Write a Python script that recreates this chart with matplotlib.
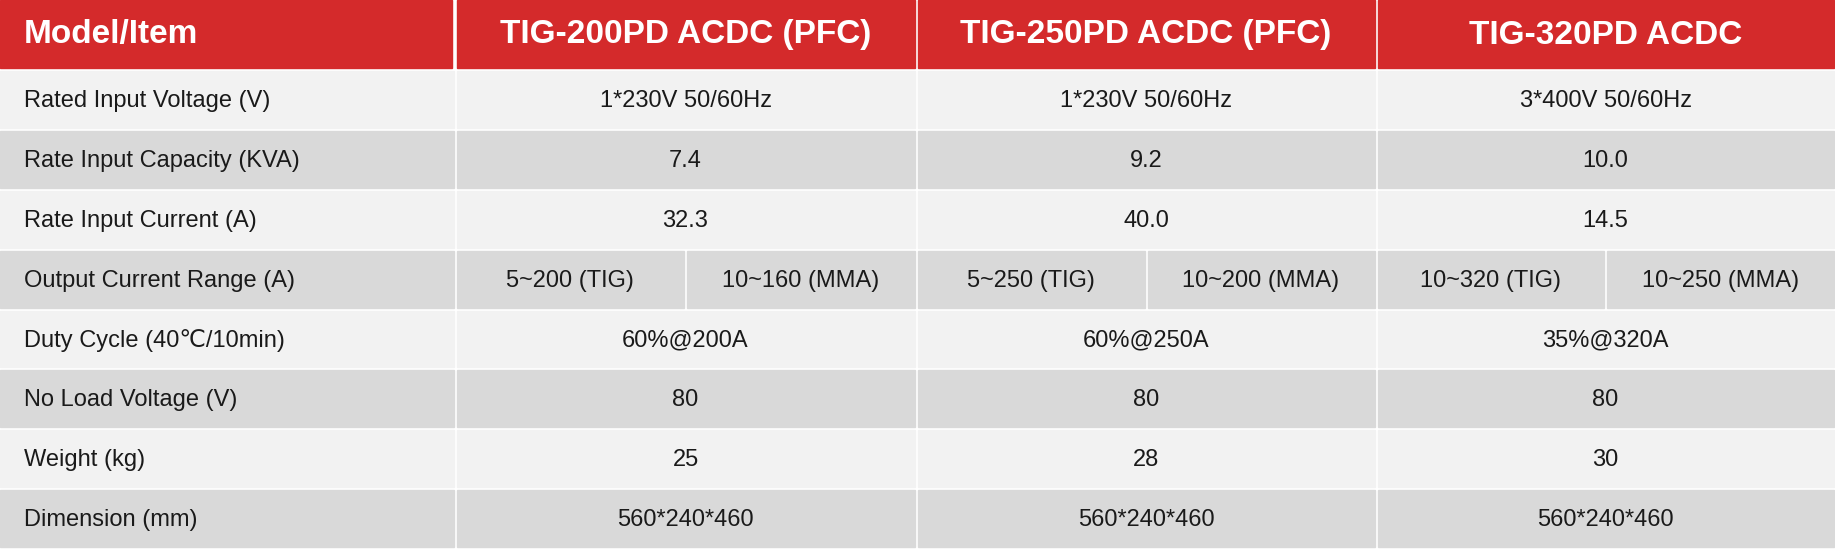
import matplotlib
matplotlib.use("Agg")
import matplotlib.pyplot as plt
from matplotlib.patches import Rectangle

models = ["TIG-200PD ACDC (PFC)", "TIG-250PD ACDC (PFC)", "TIG-320PD ACDC"]
items = ["Rated Input Voltage (V)", "Rate Input Capacity (KVA)", "Rate Input Current (A)",
         "Output Current Range (A)", "Duty Cycle (40\u2103/10min)", "No Load Voltage (V)",
         "Weight (kg)", "Dimension (mm)"]
input_voltage = ["1*230V 50/60Hz", "1*230V 50/60Hz", "3*400V 50/60Hz"]
input_capacity = ["7.4", "9.2", "10.0"]
input_current = ["32.3", "40.0", "14.5"]
output_range = [("5~200 (TIG)", "10~160 (MMA)"), ("5~250 (TIG)", "10~200 (MMA)"),
                ("10~320 (TIG)", "10~250 (MMA)")]
duty_cycle = ["60%@200A", "60%@250A", "35%@320A"]
no_load = ["80", "80", "80"]
weight = ["25", "28", "30"]
dimension = ["560*240*460", "560*240*460", "560*240*460"]
rows = [input_voltage, input_capacity, input_current, output_range,
        duty_cycle, no_load, weight, dimension]

W, H = 1835, 550
col_x = [0, 455, 916, 1376, 1835]
head_h = 68
top = 71
row_h = (H - top) / len(items)
gap = 3

RED = "#d42a2b"
LIGHT = "#f2f2f2"
DARK = "#d9d9d9"
FONT = ["Liberation Sans", "DejaVu Sans"]
BODY = 17
HEAD = 24

fig = plt.figure(figsize=(W / 100, H / 100), dpi=100)
ax = fig.add_axes([0, 0, 1, 1])
ax.set_xlim(0, W)
ax.set_ylim(H, 0)
ax.axis("off")

# header
for i in range(4):
    x0, x1 = col_x[i], col_x[i + 1]
    ax.add_patch(Rectangle((x0 + (gap / 2 if i else 0), 0), x1 - x0 - gap, head_h, color=RED))
    if i == 0:
        ax.text(24, head_h / 2 + 1, "Model/Item", color="white", fontsize=HEAD,
                fontweight="bold", family=FONT, ha="left", va="center")
    else:
        ax.text((x0 + x1) / 2, head_h / 2 + 1, models[i - 1], color="white", fontsize=HEAD,
                fontweight="bold", family=FONT, ha="center", va="center")

for r, (item, vals) in enumerate(zip(items, rows)):
    y0 = top + r * row_h
    fc = LIGHT if r % 2 == 0 else DARK
    yc = y0 + row_h / 2
    ax.add_patch(Rectangle((0, y0), col_x[1] - gap / 2, row_h - gap, color=fc))
    ax.text(24, yc, item, fontsize=BODY, family=FONT, ha="left", va="center", color="#1a1a1a")
    for c, v in enumerate(vals):
        x0, x1 = col_x[c + 1], col_x[c + 2]
        if isinstance(v, tuple):
            xm = (x0 + x1) / 2
            for (a, b), t in zip([(x0, xm), (xm, x1)], v):
                ax.add_patch(Rectangle((a + gap / 2, y0), b - a - gap, row_h - gap, color=fc))
                ax.text((a + b) / 2, yc, t, fontsize=BODY, family=FONT, ha="center",
                        va="center", color="#1a1a1a")
        else:
            ax.add_patch(Rectangle((x0 + gap / 2, y0), x1 - x0 - gap, row_h - gap, color=fc))
            ax.text((x0 + x1) / 2, yc, v, fontsize=BODY, family=FONT, ha="center",
                    va="center", color="#1a1a1a")

fig.savefig("out.png", dpi=100, facecolor="white")
